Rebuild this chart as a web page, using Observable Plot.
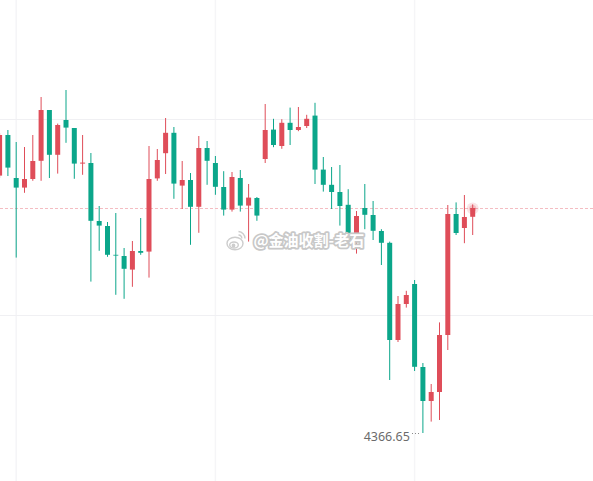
<!DOCTYPE html>
<html><head><meta charset="utf-8">
<script src="https://cdn.jsdelivr.net/npm/d3@7"></script>
<script src="https://cdn.jsdelivr.net/npm/@observablehq/plot@0.6"></script>
<style>html,body{margin:0;padding:0;background:#fff;} #chart{width:593px;height:481px;overflow:hidden;}</style>
</head><body><div id="chart"></div>
<script>
// OHLC values (one candle per index)
const opens  = [4431.0,4441.15,4430.4,4428.0,4430.15,4434.7,4447.4,4436.2,4444.9,4442.9,4434.0,4434.15,4419.65,4418.4,4411.2,4410.9,4407.5,4412.15,4412.0,4430.3,4436.6,4441.7,4428.5,4429.9,4423.2,4437.9,4434.15,4428.15,4422.5,4430.4,4423.5,4425.4,4435.15,4442.5,4438.4,4444.2,4442.4,4443.4,4446.0,4432.5,4428.7,4426.9,4423.7,4414.5,4422.9,4421.15,4417.15,4414.2,4389.9,4398.9,4403.9,4383.15,4374.65,4376.9,4391.15,4421.4,4417.9,4420.7];
const highs  = [4441.65,4442.4,4439.4,4438.15,4441.15,4450.65,4447.4,4444.0,4452.4,4442.9,4441.15,4436.65,4423.4,4419.4,4421.65,4412.9,4414.65,4420.4,4438.4,4437.65,4445.4,4443.15,4434.65,4431.65,4440.9,4439.65,4435.9,4432.1,4431.9,4432.4,4428.9,4425.65,4448.9,4445.2,4445.1,4448.0,4448.15,4446.2,4449.2,4435.65,4433.15,4433.65,4427.6,4422.15,4428.9,4424.65,4417.6,4414.5,4400.9,4402.2,4404.9,4384.15,4378.9,4394.3,4423.65,4424.3,4426.15,4423.8];
const lows   = [4430.4,4430.9,4410.5,4426.7,4429.7,4429.7,4430.4,4431.5,4439.2,4430.2,4431.2,4404.5,4412.2,4410.7,4401.2,4400.2,4403.2,4411.2,4405.5,4429.7,4431.4,4425.2,4422.65,4413.7,4416.7,4428.7,4426.2,4421.0,4422.0,4422.0,4414.5,4419.7,4434.15,4438.1,4437.7,4438.65,4442.1,4442.9,4428.9,4427.0,4422.65,4418.5,4414.5,4411.5,4417.6,4414.9,4408.65,4379.9,4389.4,4398.0,4382.15,4366.65,4369.5,4369.9,4387.4,4416.15,4414.1,4416.15];
const closes = [4441.15,4433.0,4428.0,4430.15,4434.65,4447.4,4436.2,4443.65,4443.0,4434.0,4434.25,4419.7,4418.5,4411.2,4411.0,4407.7,4412.15,4411.7,4430.15,4434.9,4441.7,4429.0,4429.9,4423.2,4437.9,4434.7,4428.2,4422.5,4430.65,4423.5,4425.5,4421.0,4442.4,4438.65,4444.2,4442.4,4443.15,4445.2,4432.5,4428.7,4426.9,4423.4,4414.5,4420.9,4421.2,4417.2,4414.2,4389.9,4398.9,4401.15,4383.2,4374.65,4376.9,4391.15,4421.4,4416.65,4420.65,4422.9];
const gridX = [2, 26, 50];
const gridY = [4396.15, 4445.15];
const watermark = "@金油收割-老石";

const UP = "#df4d59", DOWN = "#0ba68a";
const candles = opens.map((o, i) => ({i, open: o, high: highs[i], low: lows[i], close: closes[i]}));
const up = candles.filter(d => d.close >= d.open);
const down = candles.filter(d => d.close < d.open);
const last = candles[candles.length - 1];
const minC = candles.reduce((a, b) => (b.low < a.low ? b : a));

const chart = Plot.plot({
  width: 593, height: 481, margin: 0,
  style: {background: "#fff"},
  x: {type: "linear", domain: [0.1084, 71.554], axis: null},
  y: {domain: [4354.65, 4474.9], axis: null},
  marks: [
    Plot.ruleX(gridX, {stroke: "#f5f5f7", strokeWidth: 1.5}),
    Plot.ruleY(gridY, {stroke: "#f0f0f3", strokeWidth: 1}),
    Plot.ruleY([last.close], {stroke: "#f4bcc2", strokeDasharray: "3,2", strokeWidth: 1}),
    Plot.ruleX(up, {x: "i", y1: "low", y2: "high", stroke: UP, strokeWidth: 1}),
    Plot.ruleX(down, {x: "i", y1: "low", y2: "high", stroke: DOWN, strokeWidth: 1}),
    Plot.ruleX(up, {x: "i", y1: "open", y2: "close", stroke: UP, strokeWidth: 5}),
    Plot.ruleX(down, {x: "i", y1: "open", y2: "close", stroke: DOWN, strokeWidth: 5}),
    Plot.dot([last], {x: "i", y: "close", r: 6, fill: UP, fillOpacity: 0.15, stroke: null}),
    Plot.dot([last], {x: "i", y: "close", r: 3.5, fill: UP, fillOpacity: 0.25, stroke: null}),
    Plot.ruleY([minC], {y: "low", x1: d => d.i - 1.25, x2: d => d.i - 0.3, stroke: "#8a8a8a", strokeDasharray: "1,2", strokeWidth: 1}),
    Plot.text([minC], {x: "i", y: "low", text: d => d.low.toFixed(2), textAnchor: "end", dx: -13, dy: 3, fill: "#6b6b6b", fontSize: 12.5, fontFamily: "Noto Sans"}),
    Plot.text([watermark], {frameAnchor: "top-left", dx: 253, dy: 241, text: d => d, textAnchor: "start", lineAnchor: "middle", fill: "#c4c4c4", stroke: "#c8c8c8", strokeWidth: 3.5, fontSize: 15, fontWeight: "bold", fontFamily: "Noto Sans CJK SC", ariaLabel: "wm-shadow"}),
    Plot.text([watermark], {frameAnchor: "top-left", dx: 253, dy: 241, text: d => d, textAnchor: "start", lineAnchor: "middle", fill: "#ffffff", fontSize: 15, fontWeight: "bold", fontFamily: "Noto Sans CJK SC", ariaLabel: "wm-text"})
  ]
});
document.getElementById("chart").appendChild(chart);
const svg = d3.select(chart);
svg.select('g[aria-label="wm-shadow"]').style("filter", "blur(1.8px)").attr("opacity", 0.7);
// weibo-style logo next to the watermark
const logo = svg.append("g").attr("fill", "none").attr("stroke", "#c8c8c8").attr("stroke-width", 1.4).attr("opacity", 0.9);
logo.append("ellipse").attr("cx", 235).attr("cy", 243.5).attr("rx", 8).attr("ry", 6.3).attr("fill", "#fff");
logo.append("ellipse").attr("cx", 234).attr("cy", 245).attr("rx", 4.3).attr("ry", 3);
logo.append("circle").attr("cx", 233.5).attr("cy", 245.5).attr("r", 1.2).attr("fill", "#c8c8c8");
logo.append("path").attr("d", "M238.5,231.5 a7,7 0 0 1 6.5,7");
logo.append("path").attr("d", "M238.5,235 a3.5,3.5 0 0 1 3.3,3.5");
</script>
</body></html>
